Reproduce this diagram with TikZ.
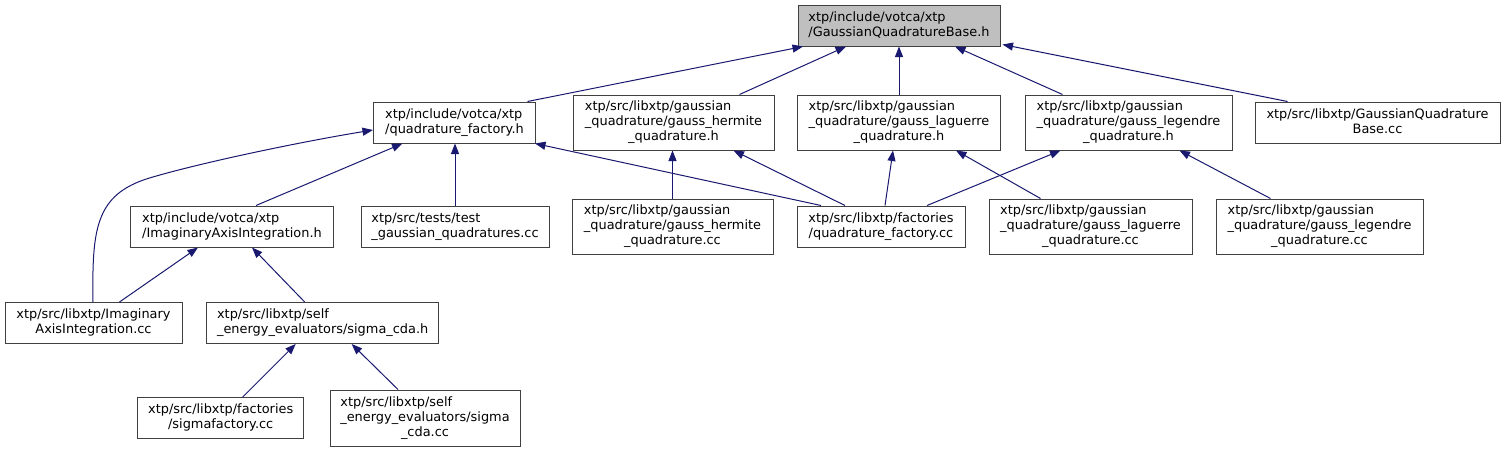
\documentclass[tikz,border=0pt]{standalone}
\usepackage{fontspec}
\setmainfont{DejaVu Sans}
\usetikzlibrary{arrows.meta}
\definecolor{edgeblue}{HTML}{191970}
\definecolor{nodegray}{HTML}{BFBFBF}
\definecolor{nodeborder}{HTML}{404040}
\newcommand{\lbl}[2]{\begin{tabular}{@{}l@{}}#1\\\multicolumn{1}{@{}c@{}}{#2}\end{tabular}}
\tikzset{
  fbox/.style={draw=nodeborder, line width=1pt, fill=white, inner sep=0pt, rectangle,
    font=\fontsize{12.9}{15}\selectfont},
  rootbox/.style={fbox, fill=nodegray},
  edge/.style={draw=edgeblue, line width=1pt, -{Triangle[length=10.5pt,width=8pt]}, color=edgeblue},
}
\begin{document}
\begin{tikzpicture}[x=1pt,y=-1pt]
\useasboundingbox[fill=white] (0,0) rectangle (1505,453);
% rank 0
\node[rootbox, minimum width=202pt, minimum height=41pt] (top) at (899,25.5) {\lbl{xtp/include/votca/xtp}{/GaussianQuadratureBase.h}};
% rank 1
\node[fbox, minimum width=162pt, minimum height=41pt] (qfh) at (454.5,122.5) {\lbl{xtp/include/votca/xtp}{/quadrature\_factory.h}};
\node[fbox, minimum width=201pt, minimum height=55pt] (hermh) at (673.5,122.5) {\lbl{xtp/src/libxtp/gaussian\\\_quadrature/gauss\_hermite}{\_quadrature.h}};
\node[fbox, minimum width=203pt, minimum height=55pt] (lagh) at (899,122.5) {\lbl{xtp/src/libxtp/gaussian\\\_quadrature/gauss\_laguerre}{\_quadrature.h}};
\node[fbox, minimum width=207pt, minimum height=55pt] (legh) at (1128.5,122.5) {\lbl{xtp/src/libxtp/gaussian\\\_quadrature/gauss\_legendre}{\_quadrature.h}};
\node[fbox, minimum width=245pt, minimum height=41pt] (gqbcc) at (1377.5,122.5) {\lbl{xtp/src/libxtp/GaussianQuadrature}{Base.cc}};
% rank 2
\node[fbox, minimum width=203pt, minimum height=41pt] (iaih) at (232,226.5) {\lbl{xtp/include/votca/xtp}{/ImaginaryAxisIntegration.h}};
\node[fbox, minimum width=188pt, minimum height=41pt] (test) at (455,226.5) {\lbl{xtp/src/tests/test}{\_gaussian\_quadratures.cc}};
\node[fbox, minimum width=201pt, minimum height=55pt] (hermcc) at (672.5,226.5) {\lbl{xtp/src/libxtp/gaussian\\\_quadrature/gauss\_hermite}{\_quadrature.cc}};
\node[fbox, minimum width=168pt, minimum height=41pt] (qfcc) at (881,226.5) {\lbl{xtp/src/libxtp/factories}{/quadrature\_factory.cc}};
\node[fbox, minimum width=203pt, minimum height=55pt] (lagcc) at (1090.5,226.5) {\lbl{xtp/src/libxtp/gaussian\\\_quadrature/gauss\_laguerre}{\_quadrature.cc}};
\node[fbox, minimum width=207pt, minimum height=55pt] (legcc) at (1319.5,226.5) {\lbl{xtp/src/libxtp/gaussian\\\_quadrature/gauss\_legendre}{\_quadrature.cc}};
% rank 3
\node[fbox, minimum width=177pt, minimum height=41pt] (iaicc) at (93.5,323) {\lbl{xtp/src/libxtp/Imaginary}{AxisIntegration.cc}};
\node[fbox, minimum width=232pt, minimum height=41pt] (scdah) at (322.7,323) {\lbl{xtp/src/libxtp/self}{\_energy\_evaluators/sigma\_cda.h}};
% rank 4
\node[fbox, minimum width=166pt, minimum height=41pt] (sfcc) at (220.7,418) {\lbl{xtp/src/libxtp/factories}{/sigmafactory.cc}};
\node[fbox, minimum width=190pt, minimum height=56pt] (scdacc) at (425,418) {\lbl{xtp/src/libxtp/self\\\_energy\_evaluators/sigma}{\_cda.cc}};
% edges
\draw[edge] ([xshift=73pt]qfh.north) -- ([xshift=-96pt]top.south);
\draw[edge] ([xshift=66pt]hermh.north) -- ([xshift=-53pt]top.south);
\draw[edge] (lagh.north) -- (top.south);
\draw[edge] ([xshift=-66pt]legh.north) -- ([xshift=56pt]top.south);
\draw[edge] ([xshift=-90pt]gqbcc.north) -- ([xshift=2pt,yshift=2pt]top.south east);
\draw[edge] ([xshift=24pt]iaih.north) -- ([xshift=-52pt]qfh.south);
\draw[edge] (test.north) -- (test.north |- qfh.south);
\draw[edge] ([xshift=-60pt]qfcc.north) -- ([xshift=-1pt]qfh.south east);
\draw[edge] ([xshift=-0.5pt]iaicc.north)
  .. controls ([xshift=-1.5pt,yshift=72.5pt]iaicc.north) and ([xshift=1.5pt,yshift=107.5pt]iaicc.north)
  .. ([xshift=-223.5pt,yshift=-55.5pt]qfh.west)
  .. controls ([xshift=-173.5pt,yshift=-40.5pt]qfh.west) and ([xshift=-73.5pt,yshift=-19.5pt]qfh.west)
  .. ([yshift=-7.5pt]qfh.west);
\draw[edge] (hermcc.north) -- (hermcc.north |- hermh.south);
\draw[edge] ([xshift=-36pt]qfcc.north) -- ([xshift=60pt]hermh.south);
\draw[edge] ([xshift=4pt]qfcc.north) -- ([xshift=-6pt]lagh.south);
\draw[edge] ([xshift=-50pt]lagcc.north) -- ([xshift=57pt]lagh.south);
\draw[edge] ([xshift=46pt]qfcc.north) -- ([xshift=-68pt]legh.south);
\draw[edge] ([xshift=-49pt]legcc.north) -- ([xshift=51pt]legh.south);
\draw[edge] ([xshift=26pt]iaicc.north) -- ([xshift=-34pt]iaih.south);
\draw[edge] ([xshift=-18pt]scdah.north) -- ([xshift=20pt]iaih.south);
\draw[edge] ([xshift=22pt]sfcc.north) -- ([xshift=-27pt]scdah.south);
\draw[edge] ([xshift=-27pt]scdacc.north) -- ([xshift=29pt]scdah.south);
\end{tikzpicture}
\end{document}
